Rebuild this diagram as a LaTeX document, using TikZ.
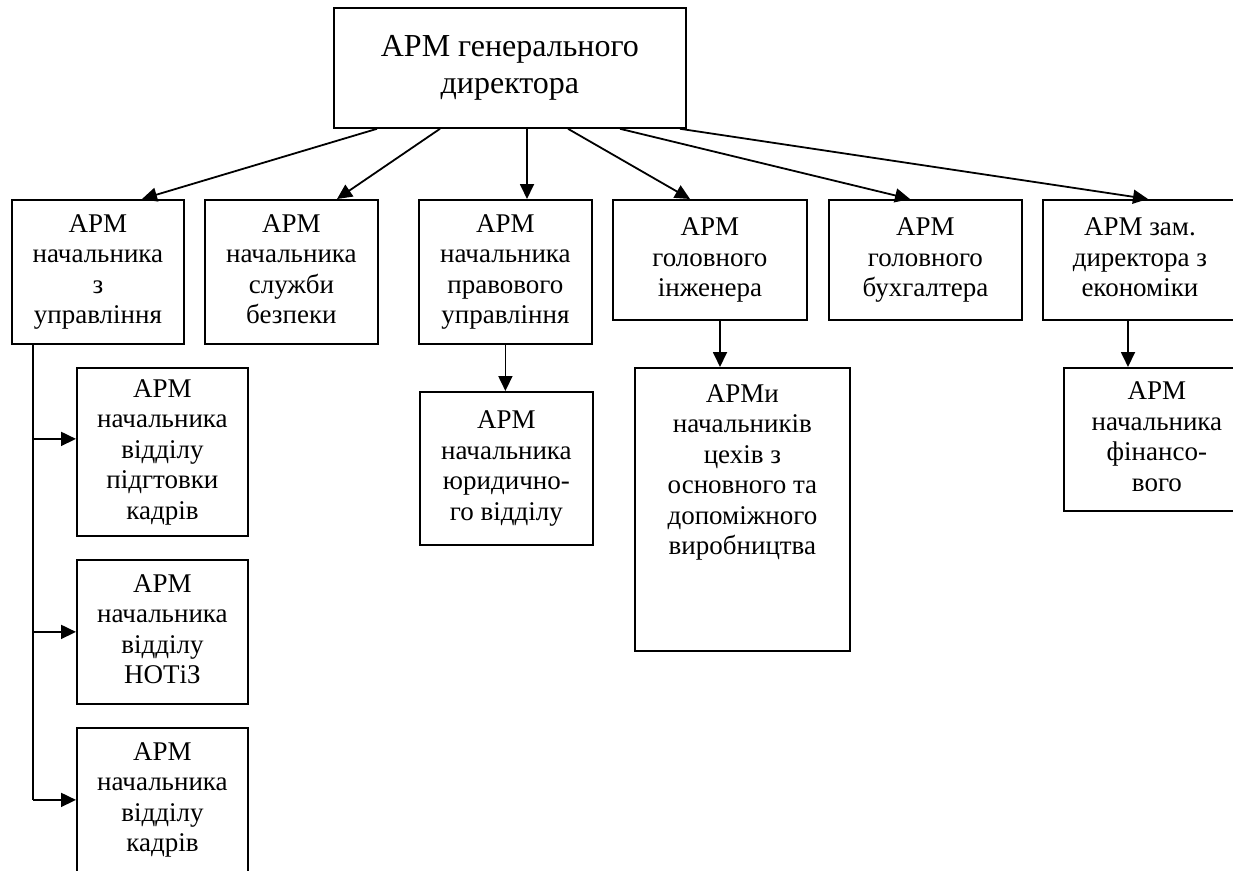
\documentclass[tikz,border=0pt]{standalone}
\usepackage{fontspec}
\setmainfont{Liberation Serif}
\usetikzlibrary{arrows.meta}
\tikzset{
  boxfont/.style={font=\fontsize{27}{30.5}\selectfont},
  box/.style={draw, line width=1.8pt, inner sep=0pt, align=center, anchor=north west, boxfont},
  topbox/.style={box, font=\fontsize{32}{37}\selectfont},
  arr/.style={line width=1.8pt, -{Triangle[length=15pt,width=14pt]}},
  ln/.style={line width=1.8pt}
}
\begin{document}
\begin{tikzpicture}[x=1pt,y=-1pt]
\useasboundingbox (0,0) rectangle (1233,870);
\clip (0,0) rectangle (1233,870);
\node[topbox, minimum width=352pt, minimum height=120pt] (top) at (333,7) {АРМ генерального\\директора};
\node[box, minimum width=172pt, minimum height=144pt] (b1) at (11,199) {\strut АРМ\\начальника\\з\\\strut управління};
\node[box, minimum width=173pt, minimum height=144pt] (b2) at (204,199) {\strut АРМ\\начальника\\служби\\\strut безпеки};
\node[box, minimum width=173pt, minimum height=144pt] (b3) at (418,199) {\strut АРМ\\начальника\\правового\\\strut управління};
\node[box, minimum width=194pt, minimum height=120pt] (b4) at (612,199) {\strut АРМ\\головного\\\strut інженера};
\node[box, minimum width=193pt, minimum height=120pt] (b5) at (828,199) {\strut АРМ\\головного\\\strut бухгалтера};
\node[box, minimum width=194pt, minimum height=120pt] (b6) at (1042,199) {\strut АРМ зам.\\директора з\\\strut економіки};
\node[box, minimum width=173pt, minimum height=153pt] (c3) at (419,391) {\strut АРМ\\начальника\\юридично-\\\strut го відділу};
\node[box, minimum width=215pt, minimum height=283pt] (c4) at (634,367) {};
\node[boxfont, align=center, inner sep=0pt, anchor=north] (c4t) at ([yshift=-17pt]c4.north) {АРМи\\начальників\\цехів з\\основного та\\допоміжного\\виробництва};
\node[box, minimum width=186pt, minimum height=143pt] (c6) at (1063,367) {\strut АРМ\\начальника\\фінансо-\\\strut вого};
\node[box, minimum width=171pt, minimum height=168pt] (kA) at (76,367) {\strut АРМ\\начальника\\відділу\\підгтовки\\\strut кадрів};
\node[box, minimum width=171pt, minimum height=144pt] (kB) at (76,559) {\strut АРМ\\начальника\\відділу\\\strut НОТіЗ};
\node[box, minimum width=171pt, minimum height=144pt] (kC) at (76,727) {\strut АРМ\\начальника\\відділу\\\strut кадрів};
% arrows from top
\draw[arr] ([xshift=44pt]top.south west) -- ([xshift=131pt]b1.north west);
\draw[arr] ([xshift=107pt]top.south west) -- ([xshift=133pt]b2.north west);
\draw[arr] ([xshift=194pt]top.south west) -- ([xshift=109pt]b3.north west);
\draw[arr] ([xshift=235pt]top.south west) -- ([xshift=78pt]b4.north west);
\draw[arr] ([xshift=287pt]top.south west) -- ([xshift=82pt]b5.north west);
\draw[arr] ([xshift=347pt]top.south west) -- ([xshift=106pt]b6.north west);
% second level
\draw[arr] (b3.south) -- (b3.south |- c3.north);
\coordinate (s4) at ([xshift=108pt]b4.south west);
\draw[arr] (s4) -- (s4 |- c4.north);
\coordinate (s6) at ([xshift=86pt]b6.south west);
\draw[arr] (s6) -- (s6 |- c6.north);
% left trunk
\coordinate (t0) at ([xshift=22pt]b1.south west);
\coordinate (ea) at ([yshift=13pt]kA.west);
\draw[ln] (t0) -- (t0 |- kC.west);
\draw[arr] (t0 |- ea) -- (ea);
\draw[arr] (t0 |- kB.west) -- (kB.west);
\draw[arr] (t0 |- kC.west) -- (kC.west);
\end{tikzpicture}
\end{document}
